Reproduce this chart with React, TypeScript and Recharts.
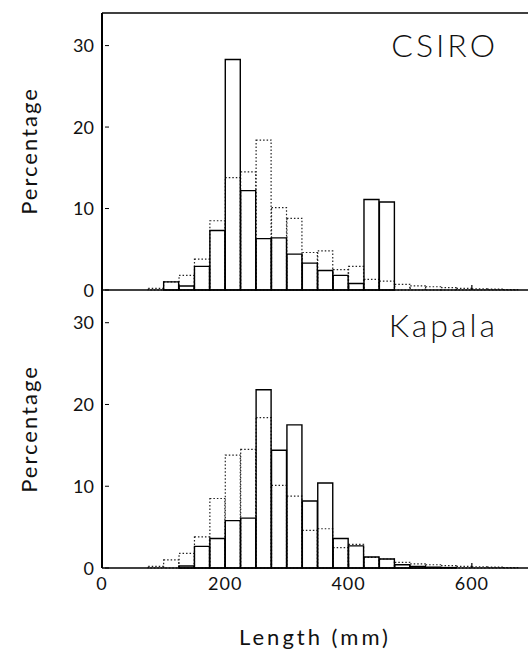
import React from "react";
import { BarChart, Bar, XAxis, YAxis, ReferenceLine } from "recharts";

// 25 mm length classes
const binStart = [
  0, 25, 50, 75, 100, 125, 150, 175, 200, 225, 250, 275, 300, 325,
  350, 375, 400, 425, 450, 475, 500, 525, 550, 575, 600, 625, 650, 675,
];

// percentage per class, all samples pooled (dotted outline in both panels)
const pooledPct = [
  null, null, null, 0.2, 1.0, 1.8, 3.8, 8.5, 13.8, 14.5, 18.4, 10.1, 8.8, 4.6,
  4.8, 2.5, 2.9, 1.3, 1.1, 0.7, 0.5, 0.4, 0.3, 0.2, 0.15, 0.1, 0.05, null,
];

const csiroPct = [
  null, null, null, null, 1.0, 0.5, 2.9, 7.3, 28.3, 12.2, 6.3, 6.4, 4.4, 3.3,
  2.4, 1.8, 0.8, 11.1, 10.8, null, null, null, null, null, null, null, null, null,
];

const kapalaPct = [
  null, null, null, null, null, 0.25, 2.65, 3.6, 5.8, 6.1, 21.8, 14.4, 17.5, 8.2,
  10.4, 3.6, 2.7, 1.35, 1.1, 0.4, 0.2, 0.1, 0.05, null, null, null, null, null,
];

const xTicks = [0, 200, 400, 600];
const yTicks = [0, 10, 20, 30];

const BIN = 25;
const FONT = "Lato, 'Open Sans', sans-serif";
const W = 540;
const PLOT_LEFT = 102;

const rowsFor = (pct: (number | null)[]) =>
  binStart.map((s, i) => ({ mid: s + BIN / 2, solid: pct[i], pooled: pooledPct[i] }));

const makeYTick = () => (props: any) => {
  const { x, y, payload } = props;
  return (
    <g>
      <line x1={PLOT_LEFT + 3} x2={PLOT_LEFT + 7} y1={y} y2={y} stroke="#000" strokeWidth={1} />
      <text x={x} y={y} dy={6.5} textAnchor="end" fontSize={18} fontFamily={FONT} fill="#111">
        {payload.value}
      </text>
    </g>
  );
};

const makeXTick = (bottom: number, showLabel: boolean) => (props: any) => {
  const { x, payload } = props;
  return (
    <g>
      {payload.value !== 0 && (
        <line x1={x} x2={x} y1={bottom} y2={bottom - 5} stroke="#000" strokeWidth={1.2} />
      )}
      {showLabel && (
        <text x={x} y={bottom + 22} textAnchor="middle" fontSize={18} fontFamily={FONT} fill="#111" letterSpacing={1}>
          {payload.value}
        </text>
      )}
    </g>
  );
};

type PanelProps = {
  pct: (number | null)[];
  height: number;
  top: number;
  axisHeight: number;
  showLabels: boolean;
  topBorder: boolean;
};

const Panel = ({ pct, height, top, axisHeight, showLabels, topBorder }: PanelProps) => {
  const bottom = height - axisHeight;
  return (
    <div style={{ position: "absolute", left: 0, top: 0 }}>
      <BarChart
        width={W}
        height={height}
        data={rowsFor(pct)}
        margin={{ top, right: 6.5, bottom: 0, left: PLOT_LEFT - 60 }}
        barCategoryGap={0}
        barGap={0}
      >
        <XAxis
          xAxisId="main"
          type="number"
          dataKey="mid"
          domain={[0, 700]}
          ticks={xTicks}
          height={axisHeight}
          axisLine={{ stroke: "#000", strokeWidth: 1.6 }}
          tickLine={false}
          tick={makeXTick(bottom, showLabels)}
        />
        <XAxis xAxisId="pooled" type="number" dataKey="mid" domain={[0, 700]} hide />
        <YAxis
          type="number"
          domain={[0, 34]}
          ticks={yTicks}
          width={60}
          tickSize={0}
          tickMargin={8}
          axisLine={{ stroke: "#000", strokeWidth: 2 }}
          tickLine={false}
          tick={makeYTick()}
        />
        {topBorder && <ReferenceLine xAxisId="main" y={34} stroke="#000" strokeWidth={1.6} />}
        <Bar
          xAxisId="pooled"
          dataKey="pooled"
          fill="none"
          stroke="#222"
          strokeWidth={1.2}
          strokeDasharray="1.5 2"
          isAnimationActive={false}
        />
        <Bar
          xAxisId="main"
          dataKey="solid"
          fill="none"
          stroke="#000"
          strokeWidth={1.4}
          isAnimationActive={false}
        />
      </BarChart>
    </div>
  );
};

export default function App() {
  return (
    <div
      style={{
        position: "fixed",
        left: 0,
        top: 0,
        width: 528,
        height: 650,
        overflow: "hidden",
        background: "#fff",
        fontFamily: FONT,
      }}
    >
      <Panel pct={csiroPct} height={300} top={13} axisHeight={10} showLabels={false} topBorder />
      <Panel pct={kapalaPct} height={650} top={290} axisHeight={82} showLabels topBorder={false} />
      <svg
        width={528}
        height={650}
        style={{ position: "absolute", left: 0, top: 0, pointerEvents: "none" }}
        fontFamily={FONT}
        fill="#111"
      >
        <text x={498} y={57} textAnchor="end" fontSize={32} fontWeight={300} letterSpacing={3}>
          CSIRO
        </text>
        <text x={498} y={337} textAnchor="end" fontSize={32} fontWeight={300} letterSpacing={3}>
          Kapala
        </text>
        <text x={37} y={151} textAnchor="middle" fontSize={22} letterSpacing={2} transform="rotate(-90 37 151)">
          Percentage
        </text>
        <text x={37} y={429} textAnchor="middle" fontSize={22} letterSpacing={2} transform="rotate(-90 37 429)">
          Percentage
        </text>
        <text x={315} y={645} textAnchor="middle" fontSize={22} letterSpacing={3}>
          Length (mm)
        </text>
      </svg>
    </div>
  );
}
